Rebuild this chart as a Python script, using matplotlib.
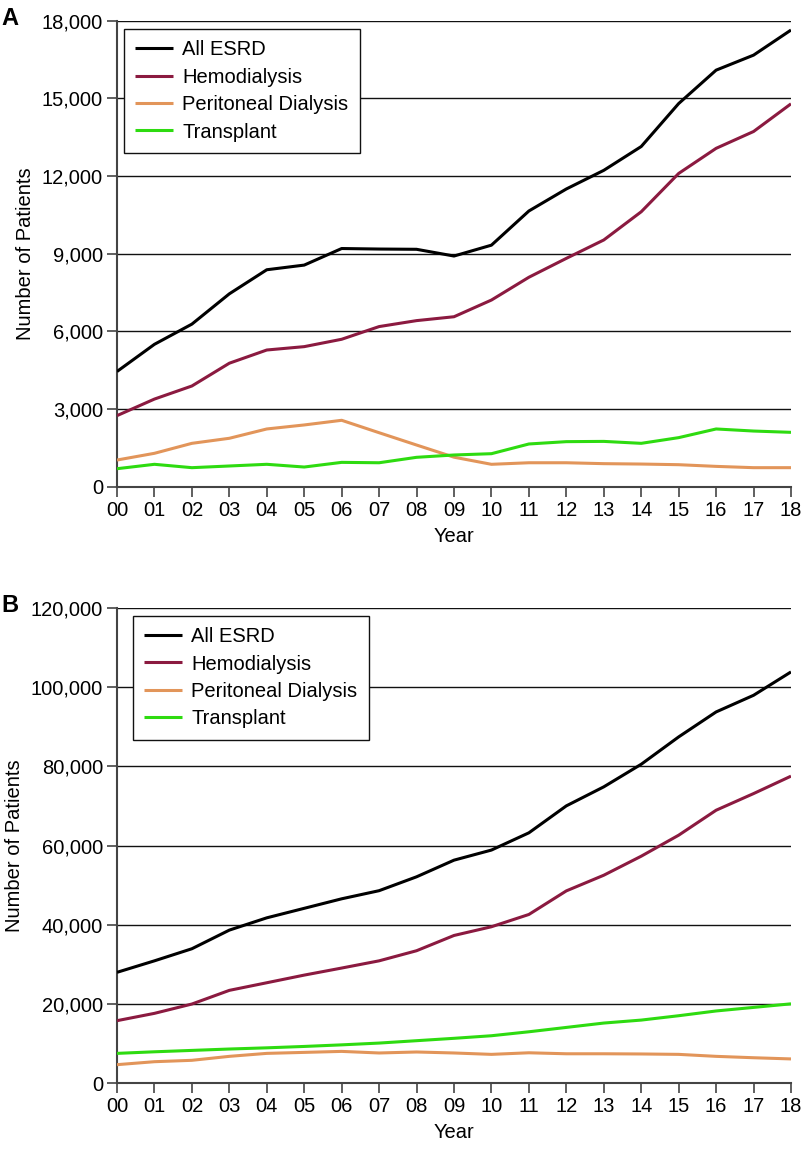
import matplotlib
matplotlib.use("Agg")
import matplotlib.pyplot as plt
from matplotlib.ticker import FuncFormatter

plt.rcParams['font.family'] = ['Liberation Sans', 'DejaVu Sans']

years = list(range(19))
year_labels = ["00", "01", "02", "03", "04", "05", "06", "07", "08", "09",
               "10", "11", "12", "13", "14", "15", "16", "17", "18"]

series_names = ["All ESRD", "Hemodialysis", "Peritoneal Dialysis", "Transplant"]
colors = ["#000000", "#8B1A40", "#E2955A", "#2EDB10"]

# Panel A
a_all = [4450, 5500, 6280, 7450, 8380, 8560, 9200, 9180, 9170, 8910,
         9330, 10650, 11500, 12220, 13140, 14800, 16090, 16670, 17640]
a_hd = [2745, 3385, 3890, 4770, 5280, 5410, 5695, 6185, 6415, 6565,
        7210, 8090, 8820, 9530, 10620, 12100, 13070, 13720, 14790]
a_pd = [1030, 1290, 1675, 1870, 2230, 2385, 2565, 2085, 1610, 1140,
        865, 925, 925, 890, 875, 850, 785, 735, 735]
a_tx = [695, 865, 735, 800, 865, 760, 940, 925, 1135, 1225,
        1275, 1650, 1740, 1750, 1675, 1895, 2230, 2150, 2100]

# Panel B
b_all = [28000, 30900, 33950, 38650, 41750, 44150, 46550, 48600, 52100, 56300,
         58850, 63200, 70000, 74800, 80500, 87400, 93700, 97900, 103800]
b_hd = [15800, 17650, 20000, 23450, 25370, 27300, 29080, 30900, 33450, 37300,
        39500, 42600, 48550, 52500, 57300, 62600, 68900, 73100, 77500]
b_pd = [4700, 5450, 5800, 6800, 7550, 7800, 8050, 7650, 7900, 7650,
        7300, 7700, 7450, 7450, 7400, 7300, 6800, 6450, 6150]
b_tx = [7550, 7950, 8300, 8650, 8950, 9300, 9700, 10150, 10750, 11350,
        12000, 13000, 14100, 15200, 15950, 17050, 18250, 19150, 20050]

W, H = 802, 1149
fig = plt.figure(figsize=(W / 100, H / 100), dpi=100)

def axrect(l, r, t, b):
    return [l / W, 1 - b / H, (r - l) / W, (b - t) / H]

panels = [
    ("A", axrect(117, 791, 20.7, 486.7), [a_all, a_hd, a_pd, a_tx], 18000, 3000,
     (0.0104, 0.982)),
    ("B", axrect(117, 791, 607.7, 1083.3), [b_all, b_hd, b_pd, b_tx], 120000, 20000,
     (0.0237, 0.9826)),
]

fs = 14.5
for label, rect, data, ymax, ystep, legpos in panels:
    ax = fig.add_axes(rect)
    for name, vals, c in zip(series_names, data, colors):
        ax.plot(years, vals, color=c, lw=2.2, label=name, solid_capstyle='butt',
                zorder=3)
    ax.set_xlim(0, 18)
    ax.set_ylim(0, ymax)
    ax.set_xticks(years)
    ax.set_xticklabels(year_labels, fontsize=fs)
    ax.set_yticks(list(range(0, ymax + 1, ystep)))
    ax.yaxis.set_major_formatter(FuncFormatter(lambda v, p: f"{int(v):,}"))
    ax.tick_params(axis='both', labelsize=fs, length=7, width=1.2,
                   color='#444444', direction='out', pad=3)
    ax.grid(axis='y', color='#111111', lw=1.0, zorder=1)
    ax.set_axisbelow(True)
    for s in ['top', 'right']:
        ax.spines[s].set_visible(False)
    for s in ['left', 'bottom']:
        ax.spines[s].set_color('#444444')
        ax.spines[s].set_linewidth(1.5)
    ax.set_xlabel("Year", fontsize=fs, labelpad=5)
    ax.set_ylabel("Number of Patients", fontsize=fs, labelpad=5)
    leg = ax.legend(loc='upper left', bbox_to_anchor=legpos, borderaxespad=0,
                    fontsize=fs, frameon=True, fancybox=False, edgecolor='#111111',
                    framealpha=1, handlelength=1.9, handletextpad=0.45,
                    labelspacing=0.42, borderpad=0.55)
    leg.get_frame().set_linewidth(1.0)
    leg.set_zorder(5)
    top_px = (1 - rect[1] - rect[3]) * H
    fig.text(1 / W, 1 - (top_px - 14) / H, label, fontsize=17, fontweight='bold',
             va='top', ha='left')

fig.savefig("out.png", dpi=100)
